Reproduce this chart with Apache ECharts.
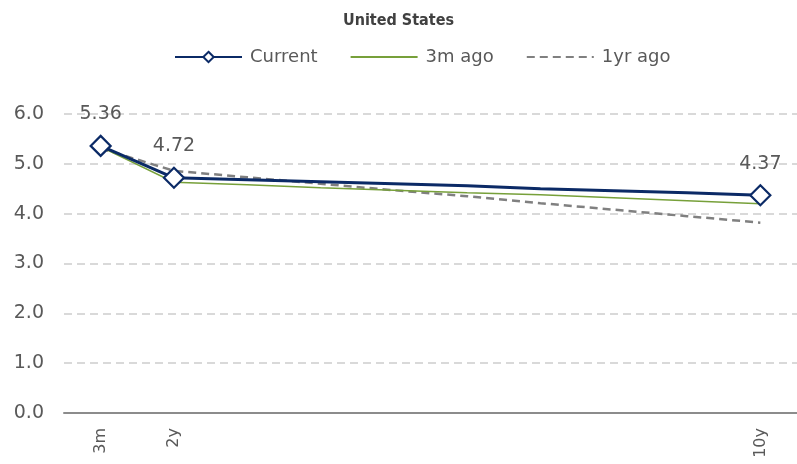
<!DOCTYPE html>
<html>
<head>
<meta charset="utf-8">
<script src="https://cdn.jsdelivr.net/npm/echarts@6/dist/echarts.min.js"></script>
<style>
  html, body { margin: 0; padding: 0; background: #ffffff; }
  #chart { width: 797px; height: 464px; }
</style>
</head>
<body>
<div id="chart"></div>
<script>
// Yield curve tenors (one slot per year from 2y to 10y)
const tenors = ['3m', '2y', '3y', '4y', '5y', '6y', '7y', '8y', '9y', '10y'];
// Tenors that carry a tick label
const labelledTenors = ['3m', '2y', '10y'];
// Tenors that carry a marker and value label on the current curve
const markedTenors = ['3m', '2y', '10y'];

const current   = [5.36, 4.72, 4.68, 4.64, 4.60, 4.56, 4.50, 4.46, 4.42, 4.37];
const threeMAgo = [5.34, 4.63, 4.58, 4.52, 4.47, 4.42, 4.38, 4.32, 4.26, 4.20];
const oneYrAgo  = [5.31, 4.86, 4.73, 4.60, 4.47, 4.35, 4.21, 4.08, 3.95, 3.82];

const yTicks = [0, 1, 2, 3, 4, 5, 6];

const FONT = 'DejaVu Sans';
const TEXT = '#595959';
const NAVY = '#0b2a66';
const GREEN = '#77a03a';
const GREY = '#808080';

const currentData = current.map((v, i) => {
  const marked = markedTenors.includes(tenors[i]);
  const item = { value: v };
  if (marked) {
    item.label = { show: true, position: 'top', distance: 11 };
  } else {
    item.symbol = 'none';
  }
  return item;
});

const chart = echarts.init(document.getElementById('chart'), null, { renderer: 'canvas' });

chart.setOption({
  animation: false,
  backgroundColor: '#ffffff',
  textStyle: { fontFamily: FONT },
  title: {
    text: 'United States',
    left: 'center',
    top: 8,
    textStyle: { fontFamily: 'DejaVu Sans Condensed', fontSize: 16, fontWeight: 'bold', color: '#404040' }
  },
  legend: {
    top: 43,
    left: 169,
    itemWidth: 67,
    itemHeight: 13,
    itemGap: 32,
    textStyle: { fontFamily: FONT, fontSize: 18, color: TEXT, padding: [0, 0, 0, 3] },
    data: [
      { name: 'Current' },
      { name: '3m ago', itemStyle: { opacity: 0 } },
      { name: '1yr ago', itemStyle: { opacity: 0 } }
    ]
  },
  grid: { left: 64, right: -3, top: 114, bottom: 51, containLabel: false },
  xAxis: {
    type: 'category',
    data: tenors,
    boundaryGap: true,
    axisLine: { lineStyle: { color: '#8c8c8c', width: 2 } },
    axisTick: { show: false },
    axisLabel: {
      rotate: 90,
      interval: 0,
      margin: 15,
      fontFamily: FONT,
      fontSize: 16,
      color: TEXT,
      formatter: v => labelledTenors.includes(v) ? v : ''
    }
  },
  yAxis: {
    type: 'value',
    min: yTicks[0],
    max: yTicks[yTicks.length - 1],
    interval: 1,
    axisLine: { show: false },
    axisTick: { show: false },
    axisLabel: {
      margin: 20,
      fontFamily: FONT,
      fontSize: 19,
      color: TEXT,
      formatter: v => v.toFixed(1)
    },
    splitLine: { lineStyle: { color: '#d9d9d9', width: 2, type: [8, 5] } }
  },
  series: [
    {
      name: '1yr ago',
      type: 'line',
      data: oneYrAgo,
      symbol: 'none',
      z: 2,
      lineStyle: { color: GREY, width: 2.5, type: [8, 5] },
      itemStyle: { color: GREY }
    },
    {
      name: '3m ago',
      type: 'line',
      data: threeMAgo,
      symbol: 'none',
      z: 3,
      lineStyle: { color: GREEN, width: 1.5 },
      itemStyle: { color: GREEN }
    },
    {
      name: 'Current',
      type: 'line',
      data: currentData,
      symbol: 'diamond',
      symbolSize: 20,
      z: 4,
      lineStyle: { color: NAVY, width: 3 },
      itemStyle: { color: '#ffffff', borderColor: NAVY, borderWidth: 2.2 },
      label: {
        fontFamily: FONT,
        fontSize: 19,
        color: TEXT,
        formatter: p => p.value.toFixed(2)
      }
    }
  ]
});
</script>
</body>
</html>
